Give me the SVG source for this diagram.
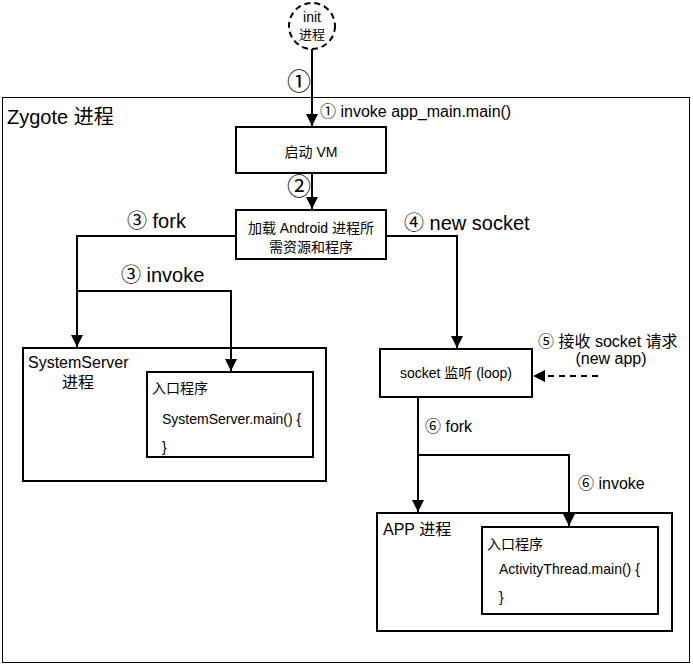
<svg xmlns="http://www.w3.org/2000/svg" width="693" height="665" viewBox="0 0 693 665">
<style>
text{font-family:"Liberation Sans","Noto Sans CJK SC",sans-serif;fill:#000}
.box{fill:#fff;stroke:#000;stroke-width:2}
.ln{fill:none;stroke:#000;stroke-width:2}
.s13{font-size:13px}
.s14{font-size:14px}
.s16{font-size:16px}
.s20{font-size:20px}
.big{font-size:24px}
</style>
<defs>
<marker id="ah" viewBox="0 0 10 10" refX="10" refY="5" markerWidth="6" markerHeight="6" orient="auto" markerUnits="strokeWidth">
<path d="M0,0 L10,5 L0,10 z" fill="#000"/>
</marker>
</defs>
<rect width="693" height="665" fill="#fff"/>
<g id="zygote">
<rect x="2.5" y="97.5" width="687" height="565" fill="none" stroke="#000" stroke-width="1"/>
<text x="7" y="124" class="s20">Zygote 进程</text>
</g>
<g id="init">
<circle cx="312" cy="26" r="23" fill="#fff" stroke="#000" stroke-width="2" stroke-dasharray="6,4"/>
<text x="312" y="22" class="s14" text-anchor="middle">init</text>
<text x="312" y="39" class="s13" text-anchor="middle">进程</text>
</g>
<g id="vm">
<rect class="box" x="236" y="127" width="150" height="46"/>
<text x="311" y="157" class="s14" text-anchor="middle">启动 VM</text>
</g>
<g id="load">
<rect class="box" x="236" y="210" width="150" height="49"/>
<text x="311" y="233" class="s14" text-anchor="middle">加载 Android 进程所</text>
<text x="311" y="252" class="s14" text-anchor="middle">需资源和程序</text>
</g>
<g id="systemserver">
<rect class="box" x="23" y="348" width="303" height="133"/>
<text x="28" y="368" class="s16">SystemServer</text>
<text x="62" y="388" class="s16">进程</text>
<rect class="box" x="147" y="372" width="166" height="85"/>
<text x="152" y="393" class="s14">入口程序</text>
<text x="162" y="424" class="s14">SystemServer.main() {</text>
<text x="162" y="452" class="s14">}</text>
</g>
<g id="socket">
<rect class="box" x="380" y="349" width="152" height="48"/>
<text x="456" y="378" class="s14" text-anchor="middle">socket 监听 (loop)</text>
</g>
<g id="app">
<rect class="box" x="377" y="513" width="295" height="118"/>
<text x="383" y="535" class="s16">APP 进程</text>
<rect class="box" x="482" y="527" width="176" height="87"/>
<text x="487" y="549" class="s14">入口程序</text>
<text x="499" y="574" class="s14">ActivityThread.main() {</text>
<text x="499" y="602" class="s14">}</text>
</g>
<g id="connectors">
<path class="ln" d="M312,49 V126" marker-end="url(#ah)"/>
<path class="ln" d="M312,173 V209" marker-end="url(#ah)"/>
<path class="ln" d="M236,236 H77 V347" marker-end="url(#ah)"/>
<path class="ln" d="M77,291 H231 V371" marker-end="url(#ah)"/>
<path class="ln" d="M386,236 H457 V348" marker-end="url(#ah)"/>
<path class="ln" d="M598,376 H533" stroke-dasharray="6,5" marker-end="url(#ah)"/>
<path class="ln" d="M418,397 V512" marker-end="url(#ah)"/>
<path class="ln" d="M418,455 H569 V526" marker-end="url(#ah)"/>
</g>
<g id="labels">
<text x="287" y="90" class="big">①</text>
<text x="320" y="117" class="s16">① invoke app_main.main()</text>
<text x="287" y="195" class="big">②</text>
<text x="127" y="228" class="s20">③ fork</text>
<text x="121" y="282" class="s20">③ invoke</text>
<text x="404" y="230" class="s20">④ new socket</text>
<text x="538" y="347" class="s16">⑤ 接收 socket 请求</text>
<text x="611" y="364" class="s16" text-anchor="middle">(new app)</text>
<text x="425" y="432" class="s16">⑥ fork</text>
<text x="578" y="489" class="s16">⑥ invoke</text>
</g>
</svg>
